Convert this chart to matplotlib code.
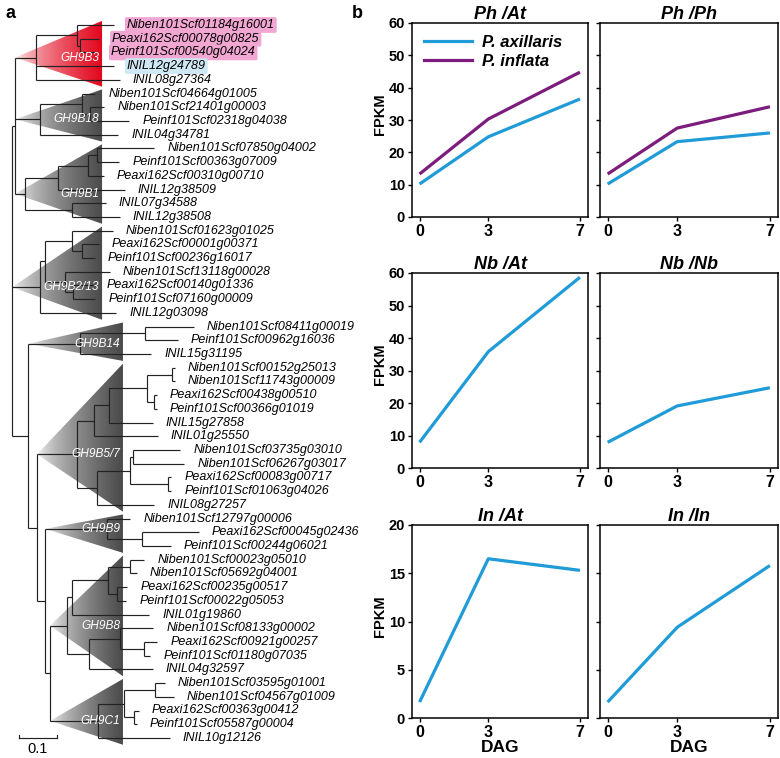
import re
import numpy as np
import matplotlib.pyplot as plt
from matplotlib.colors import LinearSegmentedColormap
from matplotlib.patches import Polygon

W, H = 780, 758

# ---------------- panel a: GH9 tree (newick, branch lengths) ----------------
gh9b3 = ("((Niben101Scf01184g16001:0.097,(Peaxi162Scf00078g00825:0.050,"
         "Peinf101Scf00540g04024:0.047):0.008):0.108,INIL12g24789:0.205,"
         "INIL08g27364:0.221)GH9B3")
gh9b18 = ("((Niben101Scf04664g01005:0.034,(Niben101Scf21401g00003:0.037,"
          "Peinf101Scf02318g04038:0.103):0.021):0.111,INIL04g34781:0.205)GH9B18")
gh9b1 = ("((((Niben101Scf07850g04002:0.150,Peinf101Scf00363g07009:0.058):0.024,"
         "Peaxi162Scf00310g00710:0.042):0.079,INIL12g38509:0.176):0.087,"
         "(INIL07g34588:0.089,INIL12g38508:0.126):0.124)GH9B1")
gh9b2_13 = ("(((Niben101Scf01623g01025:0.108,(Peaxi162Scf00001g00371:0.045,"
            "Peinf101Scf00236g16017:0.034):0.026):0.071,(Niben101Scf13118g00028:0.118,"
            "(Peaxi162Scf00140g01336:0.053,Peinf101Scf07160g00009:0.058):0.021):0.053):0.013,"
            "INIL12g03098:0.200)GH9B2/13")
gh9b14 = ("((Niben101Scf08411g00019:0.129,Peinf101Scf00962g16036:0.087):0.171,"
          "INIL15g31195:0.187)GH9B14")
gh9b5_7 = ("(((((Niben101Scf00152g25013:0.008,Niben101Scf11743g00009:0.008):0.066,"
           "(Peaxi162Scf00438g00510:0.008,Peinf101Scf00366g01019:0.008):0.018):0.100,"
           "INIL15g27858:0.116):0.039,INIL01g25550:0.168):0.045,"
           "(((Niben101Scf03735g03010:0.124,Niben101Scf06267g03017:0.134):0.008,"
           "(Peaxi162Scf00083g00717:0.008,Peinf101Scf01063g04026:0.008):0.100):0.087,"
           "INIL08g27257:0.150):0.053)GH9B5/7")
gh9b9 = ("(Niben101Scf12797g00006:0.061,(Peaxi162Scf00045g02436:0.150,"
         "Peinf101Scf00244g06021:0.076):0.092)GH9B9")
gh9b8 = ("((((Niben101Scf00023g05010:0.037,Niben101Scf05692g04001:0.018):0.058,"
         "(Peaxi162Scf00235g00517:0.026,Peinf101Scf00022g05053:0.024):0.024):0.095,"
         "INIL01g19860:0.203):0.013,((Niben101Scf08133g00002:0.087,"
         "(Peaxi162Scf00921g00257:0.034,Peinf101Scf01180g07035:0.016):0.063):0.082,"
         "INIL04g32597:0.168):0.058)GH9B8")
gh9c1 = ("(((Niben101Scf03595g01001:0.026,Niben101Scf04567g01009:0.050):0.082,"
         "(Peaxi162Scf00363g00412:0.013,Peinf101Scf05587g00004:0.008):0.026):0.068,"
         "INIL10g12126:0.189)GH9C1")
backbone = ("(({b3}:0.055,{b18}:0.066,{b1}:0.026):0.008,{b213}:0.074,"
            "({b14}:0.137,({b57}:0.105,({b9}:0.163,({b8}:0.045,{c1}:0.126):0.013)"
            ":0.021):0.024):0.042);")

clade_names = ["GH9B3", "GH9B18", "GH9B1", "GH9B2/13", "GH9B14",
               "GH9B5/7", "GH9B9", "GH9B8", "GH9C1"]
clade_edge = [0.237, 0.237, 0.237, 0.237, 0.292, 0.292, 0.292, 0.292, 0.292]
clade_tone = ["#e2061c", "#4a4a4a", "#4a4a4a", "#4a4a4a", "#4a4a4a",
              "#4a4a4a", "#4a4a4a", "#4a4a4a", "#4a4a4a"]

highlighted = ["Niben101Scf01184g16001", "Peaxi162Scf00078g00825",
               "Peinf101Scf00540g04024", "INIL12g24789"]
highlight_col = ["#f2a7d2", "#f2a7d2", "#f2a7d2", "#cfe8f4"]

# ---------------- panel b: expression ----------------
dag = [0, 3, 7]
ph_at_ax = [10.2, 24.8, 36.5]
ph_at_in = [13.3, 30.3, 44.8]
ph_ph_ax = [10.2, 23.3, 26.0]
ph_ph_in = [13.3, 27.5, 34.1]
nb_at = [7.9, 35.8, 58.7]
nb_nb = [7.9, 19.1, 24.7]
in_at = [1.65, 16.5, 15.3]
in_in = [1.65, 9.4, 15.8]
titles = ["Ph /At", "Ph /Ph", "Nb /At", "Nb /Nb", "In /At", "In /In"]

AX_COL = "#1f9bd7"
IN_COL = "#7c1c7c"


def parse(s):
    pos = 0

    def node():
        nonlocal pos
        kids = []
        if s[pos] == "(":
            pos += 1
            kids.append(node())
            while s[pos] == ",":
                pos += 1
                kids.append(node())
            pos += 1
        name = re.match(r"[^:,();]*", s[pos:]).group(0)
        pos += len(name)
        bl = 0.0
        m = re.match(r":([0-9.]+)", s[pos:])
        if m:
            bl = float(m.group(1))
            pos += len(m.group(0))
        return {"name": name, "bl": bl, "kids": kids}
    return node()


tree = parse(backbone.format(b3=gh9b3, b18=gh9b18, b1=gh9b1, b213=gh9b2_13,
                             b14=gh9b14, b57=gh9b5_7, b9=gh9b9, b8=gh9b8, c1=gh9c1))

leaves = []


def layout(n, x0, parent=None):
    n["x"] = x0 + n["bl"]
    n["parent"] = parent
    if not n["kids"]:
        leaves.append(n)
        n["y"] = len(leaves)
        n["first"] = n["last"] = n["y"]
    else:
        for k in n["kids"]:
            layout(k, n["x"], n)
        n["y"] = (n["kids"][0]["y"] + n["kids"][-1]["y"]) / 2
        n["first"] = n["kids"][0]["first"]
        n["last"] = n["kids"][-1]["last"]


layout(tree, 0.0)
tree["x"] = 0.0

nodes = {}


def collect(n):
    nodes[n["name"]] = n
    for k in n["kids"]:
        collect(k)


collect(tree)

fig = plt.figure(figsize=(W / 100, H / 100), dpi=100)


def px_axes(l, t, r, b):
    return fig.add_axes([l / W, 1 - b / H, (r - l) / W, (b - t) / H])


PX = 1 / 380.0          # tree units per pixel (0.1 = 38 px)
ROW = 13.71             # pixels per leaf
ta = px_axes(0, 0, 395, H)
ta.axis("off")

# collapsed-clade gradient triangles
grad = np.linspace(0, 1, 256).reshape(1, -1) ** 0.6
for name, edge, tone in zip(clade_names, clade_edge, clade_tone):
    nd = nodes[name]
    ax0 = nd["parent"]["x"]
    top, bot = nd["first"] - 0.3, nd["last"] + 0.5
    poly = Polygon([(ax0, nd["y"]), (edge, top), (edge, bot)], closed=True,
                   fc="none", ec="none")
    ta.add_patch(poly)
    cmap = LinearSegmentedColormap.from_list("g", ["white", tone])
    im = ta.imshow(grad, cmap=cmap, extent=[ax0, edge, bot, top],
                   aspect="auto", zorder=1, interpolation="bilinear",
                   vmin=0, vmax=1)
    im.set_clip_path(poly)
    ta.text(edge - 3 * PX, nd["y"], name, color="white", style="italic",
            fontsize=8.6, ha="right", va="center", family="Liberation Sans",
            zorder=4)


def draw(n):
    if n["kids"]:
        ta.plot([n["x"], n["x"]], [n["kids"][0]["y"], n["kids"][-1]["y"]],
                color="#222222", lw=0.85, zorder=3, solid_capstyle="butt")
        for k in n["kids"]:
            ta.plot([n["x"], k["x"]], [k["y"], k["y"]], color="#222222",
                    lw=0.85, zorder=3, solid_capstyle="butt")
            draw(k)


draw(tree)

for lf in leaves:
    box = None
    if lf["name"] in highlighted:
        c = highlight_col[highlighted.index(lf["name"])]
        box = dict(boxstyle="round,pad=0.15", fc=c, ec="none")
    ta.text(lf["x"] + 13 * PX, lf["y"], lf["name"], fontsize=9.0,
            style="italic", va="center", ha="left", family="Liberation Sans",
            bbox=box, zorder=5)

# scale bar
sb_y = len(leaves)
sb_x0 = 7 * PX
ta.plot([sb_x0, sb_x0 + 0.1], [sb_y, sb_y], color="#222222", lw=0.85)
ta.plot([sb_x0, sb_x0], [sb_y, sb_y - 0.2], color="#222222", lw=0.85)
ta.plot([sb_x0 + 0.1, sb_x0 + 0.1], [sb_y, sb_y - 0.2], color="#222222", lw=0.85)
ta.text(sb_x0 + 0.05, sb_y + 0.3, "0.1", ha="center", va="top", fontsize=10.5,
        family="Liberation Sans")

ta.set_xlim(-12 * PX, 383 * PX)
ta.set_ylim(1 + (H - 25) / ROW, 1 - 25 / ROW)

fig.text(6 / W, 1 - 13 / H, "a", fontsize=13, fontweight="bold",
         va="center", family="Liberation Sans")
fig.text(352 / W, 1 - 14 / H, "b", fontsize=13, fontweight="bold",
         va="center", family="Liberation Sans")

# ---------------- panel b ----------------
rows = [(23, 217, 60, [0, 10, 20, 30, 40, 50, 60]),
        (273, 468, 60, [0, 10, 20, 30, 40, 50, 60]),
        (525, 718, 20, [0, 5, 10, 15, 20])]
cols = [(412, 588), (600, 778)]
series = [[(ph_at_ax, AX_COL), (ph_at_in, IN_COL)],
          [(ph_ph_ax, AX_COL), (ph_ph_in, IN_COL)],
          [(nb_at, AX_COL)], [(nb_nb, AX_COL)],
          [(in_at, AX_COL)], [(in_in, AX_COL)]]

for r, (t, b, ymax, yt) in enumerate(rows):
    for c, (l, rr) in enumerate(cols):
        i = r * 2 + c
        ax = px_axes(l, t, rr, b)
        for vals, col in series[i]:
            ax.plot(dag, vals, color=col, lw=2.3, solid_capstyle="butt")
        ax.set_xlim(-0.33, 7.35)
        ax.set_ylim(0, ymax)
        ax.set_xticks(dag)
        ax.set_yticks(yt)
        for s in ax.spines.values():
            s.set_linewidth(1.1)
        ax.tick_params(direction="out", length=3, width=1, pad=2)
        for lab in ax.get_xticklabels():
            lab.set_fontweight("bold")
            lab.set_fontsize(11.5)
            lab.set_family("Liberation Sans")
        for lab in ax.get_yticklabels():
            lab.set_fontweight("bold")
            lab.set_fontsize(10.5)
            lab.set_family("Liberation Sans")
        if c == 1:
            ax.set_yticklabels([])
        else:
            ax.set_ylabel("FPKM", fontsize=10.5, fontweight="bold",
                          family="Liberation Sans")
            ax.yaxis.set_label_coords(-0.14, 0.53)
        ax.set_title(titles[i], fontsize=13, fontweight="bold", style="italic",
                     family="Liberation Sans", pad=3)
        if r == 2:
            ax.set_xlabel("DAG", fontsize=12.5, fontweight="bold",
                          family="Liberation Sans", labelpad=0)
        if i == 0:
            ax.legend([plt.Line2D([], [], color=AX_COL, lw=2.3),
                       plt.Line2D([], [], color=IN_COL, lw=2.3)],
                      ["P. axillaris", "P. inflata"], loc="upper left",
                      frameon=False, handlelength=2.9, handletextpad=0.6,
                      labelspacing=0.25, borderaxespad=0.3,
                      prop=dict(family="Liberation Sans", weight="bold",
                                style="italic", size=12))

fig.savefig("out.png", dpi=100)
